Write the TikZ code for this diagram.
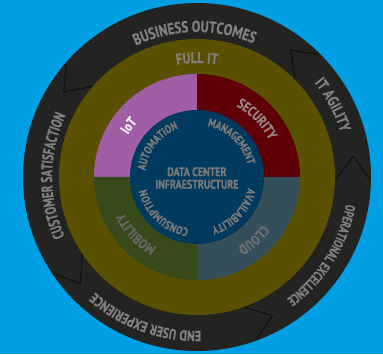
\documentclass[tikz,border=0pt]{standalone}
\usepackage{fontspec}
\usetikzlibrary{decorations.text}
\newfontfamily\condfont[FakeStretch=0.8,BoldFeatures={FakeBold=0.6}]{PT Sans}
\newfontfamily\narrowfont[FakeStretch=0.7,BoldFeatures={FakeBold=0.6}]{PT Sans}
\definecolor{bgblue}{RGB}{0,159,227}
\definecolor{ringdark}{RGB}{35,35,33}
\definecolor{chevline}{RGB}{18,18,16}
\definecolor{olivering}{RGB}{89,80,0}
\definecolor{iotcol}{RGB}{160,94,164}
\definecolor{seccol}{RGB}{94,0,6}
\definecolor{mobcol}{RGB}{56,74,28}
\definecolor{cloudcol}{RGB}{52,79,90}
\definecolor{corecol}{RGB}{0,58,94}
\definecolor{txtgrey}{RGB}{128,128,128}
\definecolor{txtolive}{RGB}{128,128,118}
\definecolor{txtcore}{RGB}{122,122,122}
\definecolor{txtsec}{RGB}{150,132,132}
\definecolor{txtcloud}{RGB}{112,112,112}
\definecolor{txtmob}{RGB}{102,102,102}
\definecolor{txtiot}{RGB}{242,242,242}
% center angle, half span, radius, font, colour, text
\newcommand{\arclabel}[6]{%
  \path[shift={(197,177)},decorate,decoration={text along path,text align=center,
    text={|#4\color{#5}|#6}}]
    (#1+#2:#3) arc[start angle=#1+#2,end angle=#1-#2,radius=#3];}
\newcommand{\cf}[1]{\condfont\bfseries\fontsize{#1}{#1}\selectfont}
\newcommand{\nf}[1]{\narrowfont\bfseries\fontsize{#1}{#1}\selectfont}
\begin{document}
\begin{tikzpicture}[x=1pt,y=1pt,
  chev/.style={draw=chevline,line width=1.3pt,line join=miter}]
\fill[bgblue] (0,0) rectangle (383,354);
\useasboundingbox (0,0) rectangle (383,354);
\coordinate (C) at (197,177);
\fill[ringdark] (C) circle[radius=174];
\fill[olivering] (C) circle[radius=138];
\begin{scope}[shift={(197,177)}]
\fill[iotcol] (0,0) -- (90:103) arc[start angle=90,end angle=180,radius=103] -- cycle;
\fill[seccol] (0,0) -- (0:103) arc[start angle=0,end angle=90,radius=103] -- cycle;
\fill[mobcol] (0,0) -- (180:103) arc[start angle=180,end angle=270,radius=103] -- cycle;
\fill[cloudcol] (0,0) -- (270:103) arc[start angle=270,end angle=360,radius=103] -- cycle;
\fill[corecol] (0,0) circle[radius=67];
% chevrons in the outer ring
\foreach \e in {139,45,-1,-70,214}{
  \draw[chev] (\e:173) -- (\e+8.5:158) -- (\e:138.5);
}
\end{scope}
% outer ring labels
\arclabel{91}{60}{145}{\cf{16}}{txtgrey}{BUSINESS OUTCOMES}
\arclabel{28}{40}{150.5}{\cf{15.5}}{txtgrey}{IT AGILITY}
\arclabel{-32}{55}{151.5}{\nf{13.6}}{txtgrey}{OPERATIONAL EXCELLENCE}
\arclabel{250}{55}{154}{\cf{14.4}}{txtgrey}{END USER EXPERIENCE}
\arclabel{179.5}{55}{145}{\nf{15.5}}{txtgrey}{CUSTOMER SATISFACTION}
% full IT ring
\arclabel{90}{40}{114}{\cf{15.5}}{txtolive}{FULL IT}
% quadrant labels
\arclabel{143}{35}{81}{\cf{14}}{txtiot}{IoT}
\arclabel{44}{40}{81}{\cf{14}}{txtsec}{SECURITY}
\arclabel{-48}{40}{81}{\cf{14}}{txtcloud}{CLOUD}
\arclabel{223}{40}{81}{\cf{14}}{txtmob}{MOBILITY}
% inner labels
\arclabel{142}{55}{52}{\cf{11.6}}{txtcore}{AUTOMATION}
\arclabel{46}{55}{52}{\cf{11.6}}{txtcore}{MANAGEMENT}
\arclabel{-43}{55}{52}{\cf{11.6}}{txtcore}{AVAILABILITY}
\arclabel{-133}{55}{52}{\cf{11.6}}{txtcore}{CONSUMPTION}
\node[text=txtcore,font=\cf{12.5},align=center,inner sep=0pt]
  (core) at (197,176) {DATA CENTER\\INFRAESTRUCTURE};
\end{tikzpicture}
\end{document}
